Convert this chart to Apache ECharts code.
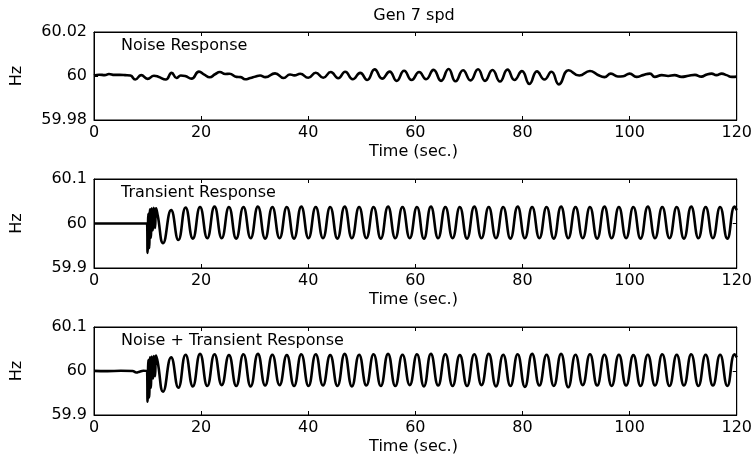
<!DOCTYPE html>
<html>
<head>
<meta charset="utf-8">
<script src="https://cdn.jsdelivr.net/npm/echarts@6/dist/echarts.min.js"></script>
<style>
html,body{margin:0;padding:0;background:#fff;}
#chart{width:755px;height:459px;}
</style>
</head>
<body>
<div id="chart"></div>
<script>
// ---------- data ----------
const chartTitle = 'Gen 7 spd';
const panelTitles = ['Noise Response', 'Transient Response', 'Noise + Transient Response'];
const xLabel = 'Time (sec.)';
const yLabel = 'Hz';
const xTicks = [0, 20, 40, 60, 80, 100, 120];
const yTicksNoise = [59.98, 60, 60.02];
const yTicksTrans = [59.9, 60, 60.1];
const yTicksCombo = [59.9, 60, 60.1];

// Panel 1: noise response
const noiseT = [0, 1.0, 2.0, 2.8, 3.8, 4.8, 5.8, 6.8,
  7.7, 8.8, 10.0, 11.2, 12.0, 13.4,
  14.5, 15.4, 16.2, 17.0, 18.2, 19.6,
  20.6, 21.6, 22.6, 23.5, 24.5, 25.3,
  26.6, 27.4, 28.2, 29.2, 30.2, 31.0, 32.0,
  33.8, 35.4, 36.6, 37.4, 38.5, 40.0,
  41.4, 42.8, 44.2, 45.6, 46.9, 48.3, 49.7, 51.0,
  52.4, 53.8, 55.2, 56.5, 57.9, 59.3, 60.7, 62.0,
  63.4, 64.8, 66.2, 67.5, 68.9, 70.3, 71.7, 73.0,
  74.4, 75.8, 77.2, 78.5, 79.9, 81.3, 82.7, 84.1,
  85.4, 86.8, 88.6, 90.6, 92.6, 94.0, 95.3,
  96.5, 97.8, 98.8, 100.0, 101.3, 102.5, 103.8, 104.7,
  106.0, 107.2, 108.4, 109.7, 111.0, 112.2, 113.4, 114.4,
  115.3, 116.2, 117.2, 118.1, 119.1, 120.0];
const noiseV = [60.0002, 60.0006, 60.0004, 60.0009, 60.0005, 60.0005, 60.0004, 60.0002,
  59.9984, 60.0004, 59.9987, 60.0001, 59.9997, 59.9984,
  60.0014, 59.9991, 60.0002, 60.0000, 59.9988, 60.0020,
  60.0006, 59.9994, 60.0008, 60.0018, 60.0009, 60.0010,
  59.9996, 59.9995, 59.9985, 59.9991, 59.9998, 60.0002, 59.9995,
  60.0012, 59.9991, 60.0007, 60.0003, 60.0010, 59.9992,
  60.0015, 59.9992, 60.0018, 59.9990, 60.0019, 59.9985, 60.0014, 59.9982,
  60.0030, 59.9988, 60.0020, 59.9978, 60.0024, 59.9982, 60.0018, 59.9985,
  60.0028, 59.9978, 60.0032, 59.9976, 60.0026, 59.9980, 60.0031, 59.9978,
  60.0027, 59.9975, 60.0029, 59.9982, 60.0022, 59.9964, 60.0021, 59.9984,
  60.0019, 59.9962, 60.0026, 60.0002, 60.0023, 60.0006, 59.9995,
  60.0011, 59.9998, 59.9999, 60.0011, 59.9996, 60.0004, 60.0011, 59.9996,
  60.0004, 60.0000, 60.0004, 59.9996, 60.0001, 60.0005, 59.9997, 60.0007,
  60.0011, 60.0004, 60.0011, 60.0004, 59.9996, 59.9997];

// Panel 2: transient response
const transT = [0, 9.9, 10.0, 10.15, 10.3, 10.45, 10.6, 10.8, 11.0, 11.2, 11.4, 11.6, 11.9, 12.9,
  14.4, 15.75, 17.1, 18.45, 19.8, 21.15, 22.5, 23.85, 25.2, 26.55, 27.9, 29.25,
  30.6, 31.95, 33.3, 34.65, 36.0, 37.35, 38.7, 40.05, 41.4, 42.75, 44.1, 45.45,
  46.8, 48.15, 49.5, 50.85, 52.2, 53.55, 54.9, 56.25, 57.6, 58.95, 60.3, 61.6,
  62.9, 64.25, 65.6, 66.95, 68.3, 69.65, 71.0, 72.35, 73.7, 75.05, 76.4, 77.75,
  79.1, 80.45, 81.8, 83.15, 84.5, 85.85, 87.2, 88.55, 89.9, 91.25, 92.6, 93.95,
  95.3, 96.65, 98.0, 99.35, 100.7, 102.05, 103.4, 104.75, 106.1, 107.45, 108.8, 110.15,
  111.5, 112.85, 114.2, 115.55, 116.9, 118.25, 119.6, 120];
const transV = [60, 60, 59.934, 60.022, 59.945, 60.032, 59.968, 60.034, 59.985, 60.035, 59.990, 60.034, 60.018, 59.956,
  60.030, 59.963, 60.036, 59.966, 60.037, 59.967, 60.038, 59.967, 60.037, 59.966, 60.037, 59.967,
  60.038, 59.966, 60.037, 59.967, 60.037, 59.966, 60.038, 59.967, 60.037, 59.967, 60.037, 59.966,
  60.038, 59.967, 60.037, 59.967, 60.037, 59.966, 60.038, 59.967, 60.037, 59.967, 60.037, 59.966,
  60.038, 59.967, 60.037, 59.967, 60.037, 59.966, 60.038, 59.967, 60.037, 59.967, 60.037, 59.966,
  60.038, 59.967, 60.037, 59.967, 60.037, 59.966, 60.038, 59.967, 60.037, 59.967, 60.037, 59.966,
  60.038, 59.967, 60.037, 59.967, 60.037, 59.966, 60.038, 59.967, 60.037, 59.967, 60.037, 59.966,
  60.038, 59.967, 60.037, 59.967, 60.037, 59.966, 60.038, 60.030];

// Panel 3: noise + transient response
const comboT = [0, 2.5, 5.0, 7.2, 7.9, 8.5, 9.2, 9.9, 10.0, 10.15, 10.3, 10.45, 10.6, 10.8, 11.0, 11.2, 11.4, 11.6, 11.9, 12.9,
  14.4, 15.75, 17.1, 18.45, 19.8, 21.15, 22.5, 23.85, 25.2, 26.55, 27.9, 29.25,
  30.6, 31.95, 33.3, 34.65, 36.0, 37.35, 38.7, 40.05, 41.4, 42.75, 44.1, 45.45,
  46.8, 48.15, 49.5, 50.85, 52.2, 53.55, 54.9, 56.25, 57.6, 58.95, 60.3, 61.6,
  62.9, 64.25, 65.6, 66.95, 68.3, 69.65, 71.0, 72.35, 73.7, 75.05, 76.4, 77.75,
  79.1, 80.45, 81.8, 83.15, 84.5, 85.85, 87.2, 88.55, 89.9, 91.25, 92.6, 93.95,
  95.3, 96.65, 98.0, 99.35, 100.7, 102.05, 103.4, 104.75, 106.1, 107.45, 108.8, 110.15,
  111.5, 112.85, 114.2, 115.55, 116.9, 118.25, 119.6, 120];
const comboV = [60.0003, 59.9998, 60.0004, 60.0001, 59.9965, 59.9985, 60.0005, 60.0000,
  59.930, 60.025, 59.940, 60.031, 59.962, 60.033, 59.983, 60.034, 59.988, 60.035, 60.020, 59.953,
  60.031, 59.962, 60.037, 59.965, 60.039, 59.966, 60.038, 59.968, 60.036, 59.966, 60.038, 59.965,
  60.039, 59.967, 60.037, 59.968, 60.036, 59.966, 60.038, 59.966, 60.038, 59.967, 60.036, 59.966,
  60.039, 59.965, 60.037, 59.967, 60.038, 59.966, 60.039, 59.966, 60.037, 59.968, 60.038, 59.965,
  60.039, 59.967, 60.038, 59.966, 60.036, 59.966, 60.038, 59.968, 60.039, 59.965, 60.037, 59.966,
  60.038, 59.964, 60.039, 59.967, 60.037, 59.966, 60.039, 59.963, 60.037, 59.968, 60.038, 59.967,
  60.037, 59.966, 60.037, 59.967, 60.036, 59.966, 60.037, 59.967, 60.038, 59.966, 60.037, 59.967,
  60.038, 59.966, 60.037, 59.967, 60.037, 59.966, 60.038, 60.031];

// ---------- chart ----------
function zip(t, v) {
  const n = Math.min(t.length, v.length);
  const out = [];
  for (let i = 0; i < n; i++) out.push([t[i], v[i]]);
  return out;
}

const FONT = 'DejaVu Sans';
const FS = 16;
const grids = [
  {left: 94, top: 32, width: 643, height: 88, show: true, borderColor: '#000', borderWidth: 1, backgroundColor: 'transparent'},
  {left: 94, top: 179, width: 643, height: 89, show: true, borderColor: '#000', borderWidth: 1, backgroundColor: 'transparent'},
  {left: 94, top: 327, width: 643, height: 88, show: true, borderColor: '#000', borderWidth: 1, backgroundColor: 'transparent'}
];
const yTickSets = [yTicksNoise, yTicksTrans, yTicksCombo];
const seriesData = [zip(noiseT, noiseV), zip(transT, transV), zip(comboT, comboV)];

function lineAxis() { return {show: true, onZero: false, lineStyle: {color: '#000', width: 1, opacity: 1}}; }
function tick() { return {show: true, inside: true, length: 4, lineStyle: {color: '#000', width: 1, opacity: 1}}; }

const xAxes = [], yAxes = [], series = [], graphics = [];
grids.forEach((g, i) => {
  const yt = yTickSets[i];
  const yInt = +(yt[1] - yt[0]).toFixed(6);
  xAxes.push({
    gridIndex: i, type: 'value', position: 'bottom',
    min: xTicks[0], max: xTicks[xTicks.length - 1], interval: xTicks[1] - xTicks[0],
    axisLine: lineAxis(), axisTick: tick(), splitLine: {show: false},
    axisLabel: {show: true, margin: 5, color: '#000', fontFamily: FONT, fontSize: FS}
  });
  xAxes.push({
    gridIndex: i, type: 'value', position: 'top',
    min: xTicks[0], max: xTicks[xTicks.length - 1], interval: xTicks[1] - xTicks[0],
    axisLine: lineAxis(), axisTick: tick(), splitLine: {show: false},
    axisLabel: {show: false}
  });
  yAxes.push({
    gridIndex: i, type: 'value', position: 'left',
    min: yt[0], max: yt[yt.length - 1], interval: yInt,
    axisLine: lineAxis(), axisTick: tick(), splitLine: {show: false},
    axisLabel: {show: true, margin: 7, color: '#000', fontFamily: FONT, fontSize: FS,
      showMinLabel: true, showMaxLabel: true,
      formatter: v => String(+v.toFixed(4))}
  });
  yAxes.push({
    gridIndex: i, type: 'value', position: 'right',
    min: yt[0], max: yt[yt.length - 1], interval: yInt,
    axisLine: lineAxis(), axisTick: tick(), splitLine: {show: false},
    axisLabel: {show: false}
  });
  series.push({
    type: 'line', xAxisIndex: 2 * i, yAxisIndex: 2 * i,
    data: seriesData[i], showSymbol: false, smooth: 0.5, clip: true,
    lineStyle: {color: '#000', width: 2.6}, animation: false
  });
  const cx = g.left + g.width / 2;
  const cy = g.top + g.height / 2;
  graphics.push({
    type: 'text', x: 121, y: g.top + 13.5,
    style: {text: panelTitles[i], fill: '#000', font: FS + 'px "' + FONT + '"', align: 'left', verticalAlign: 'middle'}
  });
  graphics.push({
    type: 'text', x: cx - 2, y: g.top + g.height + 32,
    style: {text: xLabel, fill: '#000', font: FS + 'px "' + FONT + '"', align: 'center', verticalAlign: 'middle'}
  });
  graphics.push({
    type: 'text', x: 17, y: cy, rotation: Math.PI / 2,
    style: {text: yLabel, fill: '#000', font: FS + 'px "' + FONT + '"', align: 'center', verticalAlign: 'middle'}
  });
});
graphics.push({
  type: 'text', x: 414, y: 16,
  style: {text: chartTitle, fill: '#000', font: FS + 'px "' + FONT + '"', align: 'center', verticalAlign: 'middle'}
});

const chart = echarts.init(document.getElementById('chart'), null, {renderer: 'canvas'});
chart.setOption({
  animation: false,
  backgroundColor: '#fff',
  grid: grids,
  xAxis: xAxes,
  yAxis: yAxes,
  series: series,
  graphic: graphics
});
</script>
</body>
</html>
